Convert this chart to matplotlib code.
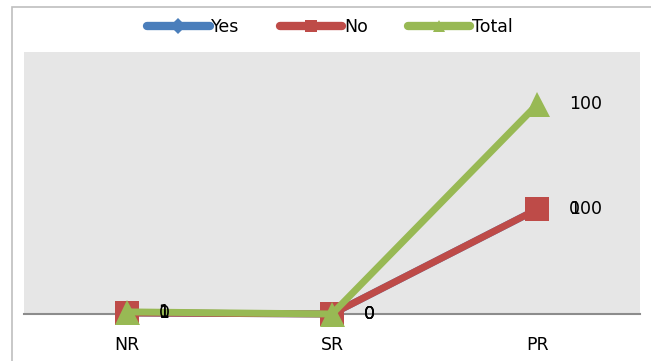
import numpy as np
import matplotlib
matplotlib.use("Agg")
import matplotlib.pyplot as plt
from matplotlib.patches import Rectangle

categories = ["NR", "SR", "PR"]
yes_vals = [1, 0, 100]
no_vals = [0, 0, 0]
total_vals = [1, 0, 100]

plt.rcParams['font.family'] = ['DejaVu Sans']

fig = plt.figure(figsize=(6.51, 3.61), dpi=100)
fig.patch.set_facecolor('white')
# outer chart border
fig.add_artist(Rectangle((12/651, -0.1), 1.0, 1 - 7/361 + 0.1, transform=fig.transFigure,
                         fill=False, edgecolor='#BFBFBF', linewidth=1.2))

ax = fig.add_axes([24/651, 47/361, 616/651, 262/361])
ax.set_facecolor('#E6E6E6')

x = np.arange(len(categories))
yes = np.array(yes_vals, dtype=float)
no = np.array(no_vals, dtype=float)
total = np.array(total_vals, dtype=float)
s_yes = yes
s_no = yes + no
s_total = s_no + total

FS = 12.5
series = [
    ("Yes", s_yes, yes, '#4A7EBB', 'D', 12),
    ("No", s_no, no, '#BE4B48', 's', 17),
    ("Total", s_total, total, '#98B954', '^', 18),
]
handles = []
for name, ys, raw, col, mk, ms in series:
    ax.plot(x, ys, color=col, linewidth=5, marker=mk, markersize=ms,
            markeredgewidth=0, solid_capstyle='round', clip_on=False, zorder=3)
    for xi, yi, ri in zip(x, ys, raw):
        ax.annotate(f"{ri:g}", (xi, yi), xytext=(23, 0), textcoords='offset points',
                    ha='left', va='center', fontsize=FS, color='black', zorder=5)
    h, = ax.plot([], [], color=col, linewidth=6, marker=mk, markersize=8,
                 markeredgewidth=0, solid_capstyle='round')
    handles.append(h)

ax.set_xlim(-0.5, 2.5)
ax.set_ylim(0, 250)
ax.set_xticks(x)
ax.set_xticklabels(categories, fontsize=FS)
ax.tick_params(axis='x', length=0, pad=16)
ax.set_yticks([])
for sp in ['top', 'right', 'left']:
    ax.spines[sp].set_visible(False)
ax.spines['bottom'].set_color('#8C8C8C')
ax.spines['bottom'].set_linewidth(1.5)
ax.spines['bottom'].set_zorder(2)

fig.legend(handles, ["Yes", "No", "Total"], loc='center', bbox_to_anchor=(330/651, 1 - 27/361),
           ncol=3, frameon=False, fontsize=FS, handlelength=3.6, handletextpad=0.1,
           columnspacing=2.3)

fig.savefig("out.png", dpi=100)
